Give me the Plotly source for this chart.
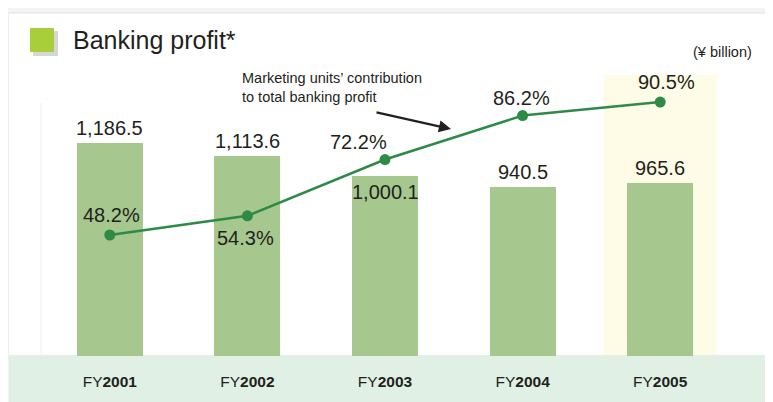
import plotly.graph_objects as go

years = ["2001", "2002", "2003", "2004", "2005"]
profit = [1186.5, 1113.6, 1000.1, 940.5, 965.6]
profit_text = ["1,186.5", "1,113.6", "1,000.1", "940.5", "965.6"]
share = [48.2, 54.3, 72.2, 86.2, 90.5]
share_text = ["48.2%", "54.3%", "72.2%", "86.2%", "90.5%"]
tick_text = ["FY<b>%s</b>" % y for y in years]

FONT = "Liberation Sans, Arial, Helvetica, sans-serif"
DARK = "#231f20"
xs = list(range(len(years)))

fig = go.Figure()

fig.add_trace(go.Bar(
    x=xs, y=profit, width=0.48,
    marker=dict(color="#a6c78e", line=dict(width=0)),
    hoverinfo="skip", showlegend=False,
))

fig.add_trace(go.Scatter(
    x=xs, y=share, yaxis="y2", mode="lines+markers",
    line=dict(color="#2e8b47", width=2.5),
    marker=dict(color="#2e8b47", size=11),
    hoverinfo="skip", showlegend=False,
))

# value labels
bar_shift = [15, 15, -16, 15, 15]
for i, t in enumerate(profit_text):
    fig.add_annotation(x=xs[i], y=profit[i], text=t, showarrow=False,
                       yshift=bar_shift[i], font=dict(family=FONT, size=20, color=DARK))

pct_shift = [(2, 20), (-2, -22), (-27, 18), (-1, 18), (6, 20)]
for i, t in enumerate(share_text):
    fig.add_annotation(x=xs[i], y=share[i], yref="y2", text=t, showarrow=False,
                       xshift=pct_shift[i][0], yshift=pct_shift[i][1],
                       font=dict(family=FONT, size=20, color=DARK))

# page has an 8px body margin, so the figure is 8px smaller than the window;
# helpers below take window pixel coords (plot area 41..729 x 75..356)
def px(p):
    return (p - 41) / 688.0

def py(p):
    return (356 - p) / 281.0

shapes = [
    dict(type="rect", xref="paper", yref="paper", x0=px(8), x1=px(800), y0=py(420), y1=py(13),
         fillcolor="white", line=dict(color="#e2e2e2", width=1), layer="below"),
    dict(type="rect", xref="x", yref="paper", x0=3.59, x1=4.41, y0=0, y1=1,
         fillcolor="#fefbe6", line=dict(width=0), layer="below"),
    dict(type="rect", xref="paper", yref="paper", x0=px(9), x1=px(800), y0=py(420), y1=py(355),
         fillcolor="#e0f0e4", line=dict(width=0), layer="below"),
    dict(type="line", xref="paper", yref="paper", x0=0, x1=0, y0=py(355), y1=py(103),
         line=dict(color="#f0f0f0", width=1), layer="below"),
    # title square with shadow
    dict(type="rect", xref="paper", yref="paper", x0=px(33), x1=px(58), y0=py(56), y1=py(31),
         fillcolor="rgba(0,0,0,0.16)", line=dict(width=0), layer="below"),
    dict(type="rect", xref="paper", yref="paper", x0=px(30), x1=px(54), y0=py(52), y1=py(28),
         fillcolor="#a8cf3a", line=dict(width=0), layer="below"),
]

fig.add_annotation(xref="paper", yref="paper", x=px(71), y=py(40), xanchor="left", yanchor="middle",
                   text="Banking profit*", showarrow=False,
                   font=dict(family=FONT, size=25, color=DARK))
fig.add_annotation(xref="paper", yref="paper", x=px(754), y=py(52), xanchor="right", yanchor="middle",
                   text="(¥ billion)", showarrow=False,
                   font=dict(family=FONT, size=14.5, color=DARK))
fig.add_annotation(xref="paper", yref="paper", x=px(240), y=py(88), xanchor="left", yanchor="middle",
                   align="left", text="Marketing units’ contribution<br>to total banking profit",
                   showarrow=False, font=dict(family=FONT, size=14.5, color=DARK))
fig.add_annotation(xref="paper", yref="paper", x=px(451), y=py(129), text="",
                   showarrow=True, ax=-76, ay=-17, arrowhead=2, arrowsize=1.1,
                   arrowwidth=2.2, arrowcolor=DARK)

fig.update_layout(
    width=765, height=394,
    margin=dict(l=33, r=44, t=67, b=46),
    paper_bgcolor="#f4f4f4",
    plot_bgcolor="rgba(0,0,0,0)",
    shapes=shapes,
    bargap=0,
    xaxis=dict(range=[-0.5, 4.5], tickvals=xs, ticktext=tick_text, showgrid=False,
               zeroline=False, showline=False, ticks="", ticklabelstandoff=14,
               automargin=False,
               tickfont=dict(family=FONT, size=15.5, color=DARK), fixedrange=True),
    yaxis=dict(range=[0, 1565.5], visible=False, showgrid=False, zeroline=False, automargin=False),
    yaxis2=dict(range=[9.7, 99.1], overlaying="y", visible=False, showgrid=False,
                zeroline=False, automargin=False),
)

fig.write_html("out.html")
